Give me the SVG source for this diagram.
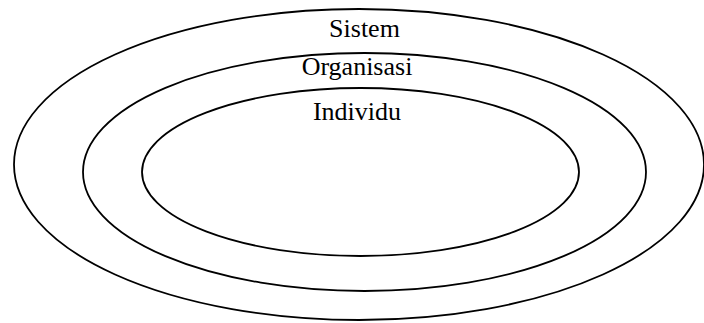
<svg xmlns="http://www.w3.org/2000/svg" width="704" height="323" viewBox="0 0 704 323">
  <style>
    .ring { fill: none; stroke: #000; stroke-width: 1.8; }
    .label { font-family: "Liberation Serif", "Times New Roman", serif; font-size: 26px; fill: #000; text-anchor: middle; }
  </style>
  <rect width="704" height="323" fill="#fff"/>
  <g id="sistem">
    <ellipse class="ring" cx="359" cy="164.5" rx="345" ry="155.5"/>
    <text class="label" x="364.5" y="36.5">Sistem</text>
  </g>
  <g id="organisasi">
    <ellipse class="ring" cx="364.5" cy="172" rx="281.5" ry="119"/>
    <text class="label" x="357" y="75">Organisasi</text>
  </g>
  <g id="individu">
    <ellipse class="ring" cx="360.5" cy="172" rx="218.5" ry="84"/>
    <text class="label" x="357" y="120">Individu</text>
  </g>
  <g id="connectors"/>
</svg>
